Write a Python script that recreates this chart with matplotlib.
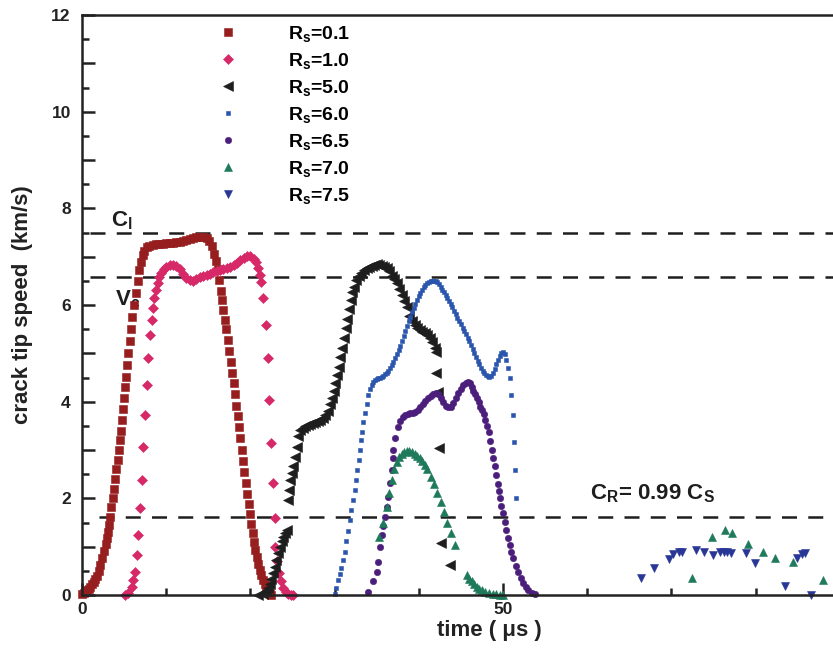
import numpy as np
import matplotlib
matplotlib.use('Agg')
import matplotlib.pyplot as plt
from matplotlib.ticker import MultipleLocator, FuncFormatter

plt.rcParams['font.family'] = ['Liberation Sans', 'DejaVu Sans']
plt.rcParams['font.weight'] = 'bold'
plt.rcParams['axes.labelweight'] = 'bold'
plt.rcParams['mathtext.fontset'] = 'custom'
plt.rcParams['mathtext.rm'] = 'Liberation Sans:bold'
plt.rcParams['mathtext.it'] = 'Liberation Sans:bold'
plt.rcParams['mathtext.bf'] = 'Liberation Sans:bold'

# crack tip speed (km/s) vs time (us)
t_01 = [0.0, 0.2, 0.4, 0.6, 0.8, 1.0, 1.2, 1.4, 1.6, 1.8,
        2.0, 2.2, 2.4, 2.6, 2.8, 2.95, 3.1, 3.25, 3.35, 3.5,
        3.65, 3.8, 3.95, 4.1, 4.25, 4.4, 4.5, 4.6, 4.75, 4.9,
        5.0, 5.15, 5.25, 5.35, 5.5, 5.65, 5.8, 6.0, 6.2, 6.4,
        6.6, 6.8, 7.0, 7.2, 7.4, 7.7, 8.0, 8.4, 8.8, 9.2,
        9.6, 10.0, 10.4, 10.8, 11.2, 11.6, 12.0, 12.4, 12.8, 13.2,
        13.6, 14.0, 14.4, 14.8, 15.1, 15.4, 15.7, 15.9, 16.1, 16.3,
        16.5, 16.65, 16.8, 16.95, 17.1, 17.3, 17.5, 17.7, 17.85, 18.0,
        18.2, 18.35, 18.5, 18.65, 18.8, 18.95, 19.1, 19.3, 19.45, 19.6,
        19.8, 19.95, 20.1, 20.3, 20.45, 20.6, 20.8, 20.95, 21.1, 21.3,
        21.5, 21.7, 21.9, 22.1, 22.3, 22.5]
v_01 = [0.02, 0.04, 0.07, 0.1, 0.13, 0.17, 0.22, 0.27, 0.33, 0.4,
        0.5, 0.62, 0.77, 0.92, 1.05, 1.17, 1.3, 1.45, 1.62, 1.82,
        2.0, 2.2, 2.4, 2.6, 2.8, 3.0, 3.2, 3.4, 3.62, 3.85,
        4.08, 4.3, 4.52, 4.75, 5.0, 5.25, 5.5, 5.75, 6.0, 6.25,
        6.5, 6.72, 6.9, 7.03, 7.12, 7.19, 7.23, 7.25, 7.26, 7.27,
        7.27, 7.28, 7.28, 7.29, 7.3, 7.31, 7.33, 7.35, 7.37, 7.38,
        7.4, 7.41, 7.41, 7.38, 7.32, 7.22, 7.06, 6.92, 6.74, 6.52,
        6.3, 6.1, 5.9, 5.7, 5.5, 5.28, 5.05, 4.82, 4.6, 4.38,
        4.15, 3.92, 3.7, 3.47, 3.24, 3.0, 2.77, 2.55, 2.32, 2.1,
        1.88, 1.67, 1.47, 1.28, 1.1, 0.94, 0.79, 0.65, 0.52, 0.41,
        0.31, 0.22, 0.15, 0.09, 0.04, 0.01]

t_10 = [5.1, 5.5, 5.9, 6.1, 6.3, 6.5, 6.7, 6.9, 7.1, 7.3,
        7.5, 7.7, 7.9, 8.1, 8.3, 8.45, 8.6, 8.8, 9.0, 9.2,
        9.4, 9.7, 10.0, 10.4, 10.8, 11.2, 11.6, 12.0, 12.4, 12.8,
        13.2, 13.6, 14.0, 14.4, 14.8, 15.2, 15.6, 16.0, 16.4, 16.8,
        17.2, 17.6, 18.0, 18.4, 18.8, 19.2, 19.6, 20.0, 20.4, 20.7,
        20.95, 21.15, 21.3, 21.5, 21.8, 22.05, 22.25, 22.45, 22.65, 22.9,
        22.95, 23.2, 23.4, 23.6, 23.9, 24.2, 24.5, 24.8, 25.1]
v_10 = [0.0, 0.04, 0.17, 0.31, 0.48, 0.83, 1.24, 1.79, 2.38, 3.07,
        3.72, 4.35, 4.9, 5.38, 5.69, 5.94, 6.14, 6.32, 6.46, 6.58,
        6.66, 6.74, 6.79, 6.82, 6.83, 6.81, 6.74, 6.64, 6.56, 6.51,
        6.5, 6.53, 6.58, 6.61, 6.63, 6.65, 6.68, 6.71, 6.73, 6.75,
        6.77, 6.79, 6.82, 6.87, 6.93, 6.98, 7.02, 7.02, 6.96, 6.88,
        6.76, 6.62, 6.48, 6.14, 5.59, 4.9, 4.03, 3.14, 2.31, 1.59,
        1.0, 0.7, 0.45, 0.28, 0.15, 0.07, 0.03, 0.01, 0.0]

t_50 = [20.9, 21.5, 21.9, 22.1, 22.3, 22.5, 22.7, 22.9, 23.1, 23.3,
        23.5, 23.7, 23.9, 24.1, 24.3, 24.5, 24.6, 24.7, 24.9, 25.1,
        25.3, 25.5, 25.7, 25.9, 26.2, 26.5, 26.8, 27.1, 27.4, 27.7,
        28.0, 28.3, 28.6, 28.9, 29.2, 29.5, 29.7, 29.9, 30.1, 30.3,
        30.5, 30.7, 30.9, 31.1, 31.3, 31.5, 31.7, 31.9, 32.1, 32.3,
        32.6, 32.9, 33.2, 33.5, 33.8, 34.1, 34.4, 34.7, 35.0, 35.3,
        35.6, 35.9, 36.2, 36.5, 36.8, 37.1, 37.4, 37.7, 38.0, 38.3,
        38.6, 38.9, 39.2, 39.5, 39.8, 40.1, 40.4, 40.7, 41.0, 41.3,
        41.6, 41.9, 42.1, 42.1, 42.3, 42.4, 42.6, 43.7]
v_50 = [0.0, 0.02, 0.08, 0.14, 0.22, 0.33, 0.45, 0.58, 0.72, 0.86,
        1.0, 1.11, 1.21, 1.28, 1.34, 1.97, 2.17, 2.38, 2.52, 2.66,
        2.86, 3.07, 3.28, 3.41, 3.46, 3.5, 3.52, 3.54, 3.55, 3.57,
        3.6, 3.63, 3.67, 3.72, 3.8, 3.95, 4.08, 4.22, 4.38, 4.55,
        4.72, 4.92, 5.12, 5.32, 5.52, 5.72, 5.92, 6.1, 6.26, 6.38,
        6.52, 6.6, 6.67, 6.72, 6.76, 6.79, 6.81, 6.83, 6.84, 6.83,
        6.81, 6.79, 6.76, 6.7, 6.61, 6.53, 6.45, 6.33, 6.2, 6.08,
        5.95, 5.78, 5.66, 5.58, 5.52, 5.48, 5.45, 5.42, 5.38, 5.31,
        5.23, 5.12, 5.03, 4.59, 4.2, 3.04, 1.07, 0.62]

t_60 = [30.0, 30.2, 30.4, 30.6, 30.8, 31.0, 31.2, 31.4, 31.6, 31.8,
        32.0, 32.2, 32.4, 32.55, 32.7, 32.85, 33.0, 33.1, 33.25, 33.4,
        33.6, 33.8, 34.0, 34.2, 34.4, 34.6, 34.8, 35.0, 35.2, 35.4,
        35.6, 35.8, 36.0, 36.2, 36.4, 36.6, 36.8, 37.0, 37.2, 37.4,
        37.6, 37.8, 38.0, 38.2, 38.4, 38.6, 38.8, 39.0, 39.2, 39.4,
        39.6, 39.8, 40.0, 40.2, 40.4, 40.6, 40.8, 41.0, 41.2, 41.4,
        41.6, 41.8, 42.0, 42.2, 42.4, 42.6, 42.8, 43.0, 43.2, 43.4,
        43.6, 43.8, 44.0, 44.2, 44.4, 44.6, 44.8, 45.0, 45.2, 45.4,
        45.6, 45.8, 46.0, 46.2, 46.4, 46.6, 46.8, 47.0, 47.2, 47.4,
        47.6, 47.8, 48.0, 48.2, 48.4, 48.6, 48.8, 49.0, 49.2, 49.4,
        49.6, 49.8, 50.0, 50.2, 50.4, 50.6, 50.8, 51.0, 51.15, 51.3,
        51.45, 51.6]
v_60 = [0.03, 0.15, 0.31, 0.43, 0.55, 0.72, 0.9, 1.12, 1.32, 1.55,
        1.76, 1.97, 2.17, 2.38, 2.59, 2.79, 3.0, 3.2, 3.38, 3.58,
        3.77, 3.96, 4.14, 4.26, 4.34, 4.4, 4.44, 4.47, 4.49, 4.5,
        4.52, 4.54, 4.57, 4.6, 4.64, 4.69, 4.75, 4.82, 4.9, 4.98,
        5.07, 5.16, 5.26, 5.36, 5.46, 5.56, 5.66, 5.76, 5.85, 5.94,
        6.02, 6.1, 6.18, 6.25, 6.31, 6.37, 6.42, 6.45, 6.47, 6.49,
        6.5, 6.5, 6.49, 6.47, 6.43, 6.38, 6.32, 6.26, 6.2, 6.14,
        6.08, 6.02, 5.95, 5.88, 5.81, 5.74, 5.67, 5.6, 5.53, 5.46,
        5.39, 5.32, 5.25, 5.17, 5.09, 5.01, 4.93, 4.85, 4.77, 4.7,
        4.64, 4.59, 4.55, 4.53, 4.52, 4.54, 4.59, 4.67, 4.77, 4.87,
        4.95, 5.01, 5.03, 4.98, 4.86, 4.7, 4.48, 4.14, 3.72, 3.17,
        2.59, 2.0]

t_65 = [34.0, 34.6, 35.0, 35.2, 35.4, 35.6, 35.8, 36.0, 36.2, 36.4,
        36.6, 36.8, 36.9, 37.0, 37.2, 37.5, 37.8, 38.1, 38.4, 38.7,
        39.0, 39.3, 39.6, 39.9, 40.2, 40.5, 40.8, 41.1, 41.4, 41.7,
        42.0, 42.3, 42.6, 42.9, 43.2, 43.5, 43.8, 44.1, 44.4, 44.7,
        45.0, 45.3, 45.6, 45.9, 46.1, 46.3, 46.5, 46.7, 46.9, 47.1,
        47.3, 47.5, 47.7, 47.9, 48.1, 48.3, 48.5, 48.7, 48.85, 49.0,
        49.2, 49.4, 49.5, 49.6, 49.8, 50.0, 50.2, 50.4, 50.6, 50.8,
        51.0, 51.2, 51.5, 51.8, 52.1, 52.4, 52.7, 53.0, 53.4, 53.8]
v_65 = [0.07, 0.28, 0.48, 0.69, 1.0, 1.24, 1.43, 1.62, 1.83, 2.03,
        2.31, 2.59, 2.83, 3.0, 3.25, 3.47, 3.6, 3.68, 3.72, 3.74,
        3.76, 3.77, 3.79, 3.82, 3.88, 3.95, 4.02, 4.07, 4.12, 4.16,
        4.17, 4.15, 4.08, 3.99, 3.92, 3.88, 3.9, 3.97, 4.07, 4.18,
        4.27, 4.34, 4.39, 4.41, 4.38, 4.3, 4.22, 4.15, 4.08, 3.99,
        3.9, 3.82, 3.74, 3.62, 3.5, 3.37, 3.19, 3.0, 2.83, 2.66,
        2.48, 2.3, 2.15, 2.0, 1.85, 1.69, 1.52, 1.34, 1.18, 1.03,
        0.89, 0.76, 0.6, 0.47, 0.35, 0.24, 0.16, 0.1, 0.05, 0.02]

t_70 = [35.3, 35.8, 36.2, 36.5, 36.8, 37.1, 37.4, 37.7, 38.0, 38.3,
        38.6, 38.9, 39.2, 39.5, 39.8, 40.1, 40.4, 40.7, 41.0, 41.4,
        41.8, 42.2, 42.6, 43.0, 43.4, 43.8, 44.3, 45.7, 46.0, 46.3,
        46.6, 46.9, 47.2, 47.5, 47.9, 48.3, 48.8, 49.2, 49.6, 50.0,
        72.4, 74.8, 76.4, 77.2, 79.1, 80.9, 82.3, 84.4, 88.0]
v_70 = [1.19, 1.5, 1.83, 2.12, 2.38, 2.6, 2.76, 2.86, 2.92, 2.96,
        2.97, 2.97, 2.95, 2.92, 2.88, 2.83, 2.77, 2.7, 2.6, 2.45,
        2.3, 2.12, 1.92, 1.72, 1.5, 1.28, 1.03, 0.41, 0.34, 0.28,
        0.22, 0.17, 0.13, 0.1, 0.07, 0.05, 0.03, 0.02, 0.01, 0.0,
        0.36, 1.19, 1.34, 1.29, 1.06, 0.89, 0.77, 0.69, 0.32]

t_75 = [66.35, 67.9, 69.75, 70.2, 70.95, 71.3, 72.9, 73.9, 74.9, 75.8,
        76.2, 76.6, 77.1, 78.9, 79.9, 83.5, 84.95, 85.5, 85.9, 86.55]
v_75 = [0.36, 0.55, 0.74, 0.84, 0.9, 0.9, 0.93, 0.88, 0.82, 0.89,
        0.89, 0.88, 0.86, 0.86, 0.66, 0.19, 0.77, 0.84, 0.86, 0.0]

# reference speeds (km/s)
c_l = 7.5
v_c = 6.57
c_r = 1.61

series = [
    (t_01, v_01, 's', 6.0, '#961e1e', r'R$_s$=0.1'),
    (t_10, v_10, 'D', 5.0, '#d72868', r'R$_s$=1.0'),
    (t_50, v_50, '<', 7.0, '#1e1e1e', r'R$_s$=5.0'),
    (t_60, v_60, 's', 3.4, '#2a55ad', r'R$_s$=6.0'),
    (t_65, v_65, 'o', 4.6, '#4a1e7a', r'R$_s$=6.5'),
    (t_70, v_70, '^', 5.2, '#1e7a5a', r'R$_s$=7.0'),
    (t_75, v_75, 'v', 5.2, '#283796', r'R$_s$=7.5'),
]

fig = plt.figure(figsize=(8.33, 6.5), dpi=100)
ax = fig.add_axes([0.0984, 0.0846, 0.9016, 0.8923])

# dashed reference lines
for y0, x0 in [(c_l, 1.0), (v_c, 1.0), (c_r, 2.0)]:
    ax.plot([x0, 89.5], [y0, y0], color='#1e1e1e', lw=1.8,
            dashes=(6, 4.5), zorder=1.5)

for t, v, mk, ms, col, lab in series:
    ax.plot(t, v, linestyle='none', marker=mk, ms=ms, color=col,
            mec=col, mew=0.4, label=lab, clip_on=False, zorder=2)

txt = dict(fontsize=16, color='#1e1e1e', zorder=1)
ax.text(3.5, 7.63, r'C$_l$', **txt)
ax.text(3.9, 6.0, r'V$_c$', **txt)
ax.text(60.3, 1.98, r'C$_R$= 0.99 C$_S$', **txt)

ax.set_xlim(0, 89.2)
ax.set_ylim(0, 12)
ax.xaxis.set_major_locator(MultipleLocator(50))
ax.xaxis.set_minor_locator(MultipleLocator(10))
ax.yaxis.set_major_locator(MultipleLocator(1))
ax.yaxis.set_minor_locator(MultipleLocator(0.5))
ax.yaxis.set_major_formatter(FuncFormatter(
    lambda y, p: '%d' % round(y) if round(y) % 2 == 0 else ''))

ax.tick_params(which='both', direction='in', width=1.8, colors='#222222',
               labelsize=12.5, top=False, right=False)
ax.tick_params(which='major', length=9)
ax.tick_params(which='minor', length=5)
ax.tick_params(axis='y', pad=8)
ax.tick_params(axis='x', pad=5)
for lab in ax.get_xticklabels() + ax.get_yticklabels():
    lab.set_fontweight('bold')

for side in ['left', 'bottom', 'top']:
    ax.spines[side].set_linewidth(1.8)
    ax.spines[side].set_color('#222222')
ax.spines['right'].set_visible(False)

ax.set_ylabel('crack tip speed  (km/s)', fontsize=16, color='#222222')
ax.yaxis.set_label_coords(-0.065, 0.5)
ax.set_xlabel('time ( \u03bcs )', fontsize=16, color='#222222')
ax.xaxis.set_label_coords(0.543, -0.043)

ax.legend(loc='upper left', bbox_to_anchor=(0.1686, 0.984), frameon=False,
          fontsize=14, handlelength=2.0, handletextpad=2.1,
          labelspacing=0.355, borderpad=0, borderaxespad=0, numpoints=1)

fig.savefig('out.png', dpi=100)
